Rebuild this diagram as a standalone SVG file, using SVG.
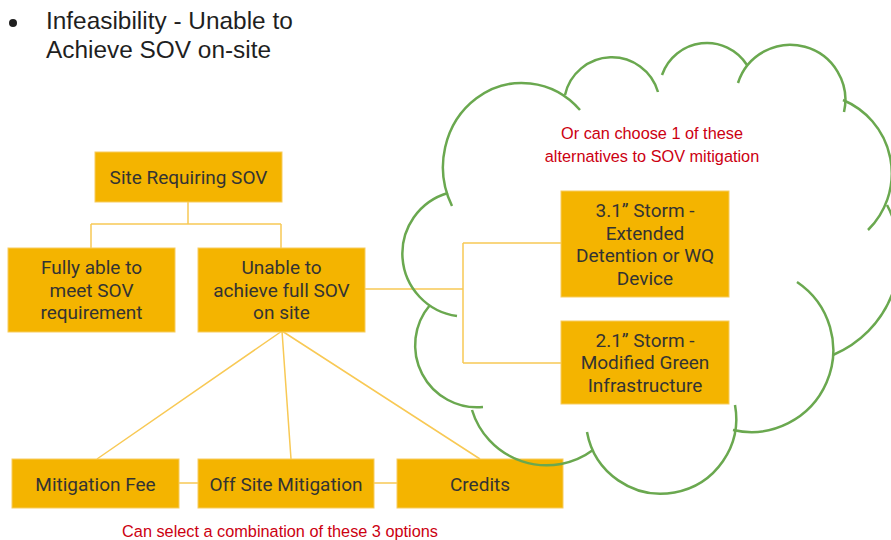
<svg xmlns="http://www.w3.org/2000/svg" width="891" height="540" viewBox="0 0 891 540">
<style>
.box{fill:#f4b400;stroke:#f7cc5e;stroke-width:1}
.bt{font-family:Roboto,"Liberation Sans",sans-serif;font-size:19px;fill:#333333;text-anchor:middle}
.red{font-family:"Liberation Sans",Arial,sans-serif;font-size:16.3px;fill:#cc0011;text-anchor:middle}
.con{fill:none;stroke:#f8c955;stroke-width:1.5}
.cloud{fill:none;stroke:#6aa84f;stroke-width:2.5}
.title{font-family:"Liberation Sans",Arial,sans-serif;font-size:24.4px;fill:#1f1f1f}
</style>
<rect width="891" height="540" fill="#ffffff"/>
<g id="title">
<circle cx="13" cy="23" r="4" fill="#1f1f1f"/>
<text class="title" x="46" y="29">Infeasibility - Unable to</text>
<text class="title" x="46" y="58">Achieve SOV on-site</text>
</g>
<g id="connectors">
<path class="con" d="M188,202 V224 M91,224 H281 M91,224 V248 M281,224 V248"/>
<path class="con" d="M365,289 H463 M463,243 V363 M463,243 H561 M463,363 H561"/>
<path class="con" d="M282,331 L97,459 M282,331 L291,459 M282,331 L480,459"/>
<path class="con" d="M179,483 H198 M374,483 H397"/>
</g>
<g id="site">
<rect class="box" x="95" y="152" width="187" height="50"/>
<text class="bt" x="188.5" y="183.5">Site Requiring SOV</text>
</g>
<g id="fully">
<rect class="box" x="8" y="248" width="167" height="84"/>
<text class="bt" x="91.5" y="274">Fully able to</text>
<text class="bt" x="91.5" y="296.5">meet SOV</text>
<text class="bt" x="91.5" y="319">requirement</text>
</g>
<g id="unable">
<rect class="box" x="198" y="248" width="167" height="84"/>
<text class="bt" x="281.5" y="274">Unable to</text>
<text class="bt" x="281.5" y="296.5">achieve full SOV</text>
<text class="bt" x="281.5" y="319">on site</text>
</g>
<g id="fee">
<rect class="box" x="12" y="459" width="167" height="49"/>
<text class="bt" x="95.5" y="490.5">Mitigation Fee</text>
</g>
<g id="offsite">
<rect class="box" x="198" y="459" width="176" height="49"/>
<text class="bt" x="286" y="490.5">Off Site Mitigation</text>
</g>
<g id="credits">
<rect class="box" x="397" y="459" width="166" height="49"/>
<text class="bt" x="480" y="490.5">Credits</text>
</g>
<g id="storm31">
<rect class="box" x="561" y="191" width="168" height="106"/>
<text class="bt" x="645" y="217">3.1” Storm -</text>
<text class="bt" x="645" y="239.5">Extended</text>
<text class="bt" x="645" y="262">Detention or WQ</text>
<text class="bt" x="645" y="284.5">Device</text>
</g>
<g id="storm21">
<rect class="box" x="561" y="321" width="168" height="83"/>
<text class="bt" x="645" y="346.5">2.1” Storm -</text>
<text class="bt" x="645" y="369">Modified Green</text>
<text class="bt" x="645" y="391.5">Infrastructure</text>
</g>
<g id="cloud">
<path class="cloud" d="M457,316 A63,63 0 0 1 448,193"/>
<path class="cloud" d="M452,206 A79,84 0 0 1 580,110"/>
<path class="cloud" d="M565,95 A48,48 0 0 1 658,92"/>
<path class="cloud" d="M662,75 A47.5,47.5 0 0 1 747,65"/>
<path class="cloud" d="M738,83 A55,55 0 0 1 844,112"/>
<path class="cloud" d="M843,100 A79.5,79.5 0 0 1 868,230"/>
<path class="cloud" d="M887,205 A108,108 0 0 1 833,355"/>
<path class="cloud" d="M797,282 A82,82 0 0 1 733,430"/>
<path class="cloud" d="M735,405 A75,75 0 0 1 587,432"/>
<path class="cloud" d="M593,450 A78,78 0 0 1 472,410"/>
<path class="cloud" d="M483,407 A62,62 0 0 1 430,305"/>
</g>
<g id="notes">
<text class="red" x="652" y="139">Or can choose 1 of these</text>
<text class="red" x="652" y="162">alternatives to SOV mitigation</text>
<text class="red" x="280" y="537">Can select a combination of these 3 options</text>
</g>
</svg>
